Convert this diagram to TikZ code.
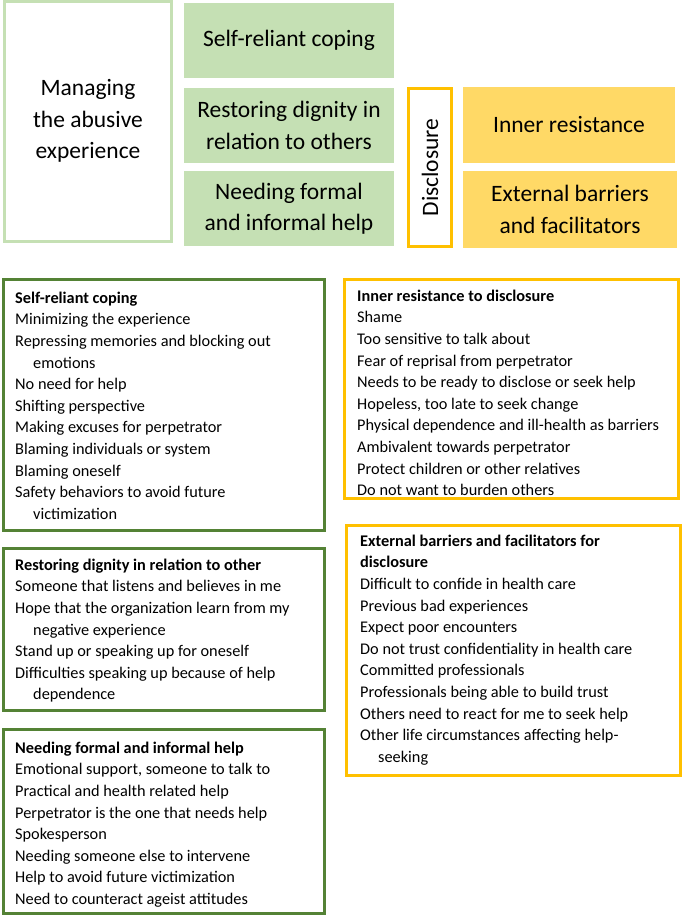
\documentclass[tikz,border=0pt]{standalone}
\usepackage{fontspec}
\setmainfont{Carlito}
\definecolor{lgreen}{HTML}{C5E0B4}
\definecolor{dgreen}{HTML}{548235}
\definecolor{gold}{HTML}{FFC000}
\definecolor{lgold}{HTML}{FFD966}
\tikzset{
  topfont/.style={font={\fontsize{23.5}{31.5}\selectfont}, align=center, inner sep=0pt},
  greenfill/.style={rectangle, fill=lgreen, topfont},
  goldfill/.style={rectangle, fill=lgold, topfont},
  greenframe/.style={rectangle, draw=dgreen, line width=3pt, fill=white, inner sep=0pt},
  goldframe/.style={rectangle, draw=gold, line width=3pt, fill=white, inner sep=0pt},
  listtext/.style={anchor=north west, align=left, inner sep=0pt, font={\fontsize{16.3}{21.6}\selectfont}},
}
\newcommand{\ind}{\hspace*{18pt}}
\begin{document}
\begin{tikzpicture}[x=1pt,y=-1pt]
\useasboundingbox (0,0) rectangle (685,918);
% top row
\node[rectangle, draw=lgreen, line width=3pt, fill=white, topfont, minimum width=167, minimum height=240] (manage) at (88,121) {Managing\\the abusive\\experience};
\node[greenfill, minimum width=210, minimum height=75] (tsr) at (289,40.5) {Self-reliant coping};
\node[greenfill, minimum width=210, minimum height=75] (trd) at (289,125.5) {Restoring dignity in\\relation to others};
\node[greenfill, minimum width=210, minimum height=75] (tnf) at (289,208.5) {Needing formal\\and informal help};
\node[rectangle, draw=gold, line width=3pt, fill=white, minimum width=43, minimum height=158, inner sep=0pt] (disc) at (430,167.5) {};
\node[topfont, rotate=90] (disctext) at (disc.center) {Disclosure};
\node[goldfill, minimum width=212, minimum height=76] (tir) at (569,125) {Inner resistance};
\node[goldfill, minimum width=214, minimum height=77] (teb) at (570,209.5) {External barriers\\and facilitators};
% bottom boxes
\node[greenframe, minimum width=321, minimum height=251] (bsr) at (164,405) {};
\node[greenframe, minimum width=321, minimum height=162] (brd) at (164,629.5) {};
\node[greenframe, minimum width=321, minimum height=184] (bnf) at (164,821.5) {};
\node[goldframe, minimum width=334, minimum height=219] (bir) at (511.5,389) {};
\node[goldframe, minimum width=334, minimum height=250] (beb) at (513.5,650.5) {};
% texts
\node[listtext] (lsr) at (15,287.9) {\strut\textbf{Self-reliant coping}\\
Minimizing the experience\\
Repressing memories and blocking out\\
\ind emotions\\
No need for help\\
Shifting perspective\\
Making excuses for perpetrator\\
Blaming individuals or system\\
Blaming oneself\\
Safety behaviors to avoid future\\
\ind victimization};
\node[listtext] (lrd) at (15,554.9) {\strut\textbf{Restoring dignity in relation to other}\\
Someone that listens and believes in me\\
Hope that the organization learn from my\\
\ind negative experience\\
Stand up or speaking up for oneself\\
Difficulties speaking up because of help\\
\ind dependence};
\node[listtext] (lnf) at (15,737.9) {\strut\textbf{Needing formal and informal help}\\
Emotional support, someone to talk to\\
Practical and health related help\\
Perpetrator is the one that needs help\\
Spokesperson\\
Needing someone else to intervene\\
Help to avoid future victimization\\
Need to counteract ageist attitudes};
\node[listtext] (lir) at (357,285.9) {\strut\textbf{Inner resistance to disclosure}\\
Shame\\
Too sensitive to talk about\\
Fear of reprisal from perpetrator\\
Needs to be ready to disclose or seek help\\
Hopeless, too late to seek change\\
Physical dependence and ill-health as barriers\\
Ambivalent towards perpetrator\\
Protect children or other relatives\\
Do not want to burden others};
\node[listtext] (leb) at (360,530.9) {\strut\textbf{External barriers and facilitators for}\\
\textbf{disclosure}\\
Difficult to confide in health care\\
Previous bad experiences\\
Expect poor encounters\\
Do not trust confidentiality in health care\\
Committed professionals\\
Professionals being able to build trust\\
Others need to react for me to seek help\\
Other life circumstances affecting help-\\
\ind seeking};
\end{tikzpicture}
\end{document}
